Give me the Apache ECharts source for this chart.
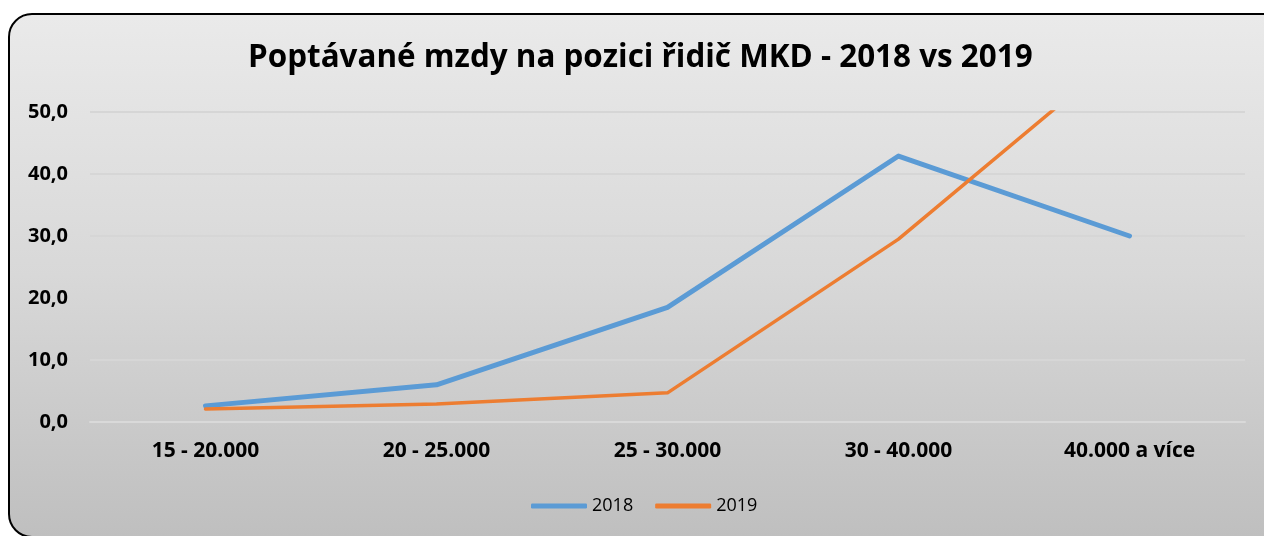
<!DOCTYPE html>
<html>
<head>
<meta charset="utf-8">
<script src="https://cdn.jsdelivr.net/npm/echarts@6/dist/echarts.min.js"></script>
<style>
html,body{margin:0;padding:0;background:#fff;width:1264px;height:536px;overflow:hidden;position:relative;}
#box{position:absolute;left:8px;top:13px;width:1276px;height:521px;border:2px solid #000;border-radius:24px;
background:linear-gradient(to bottom,#eaeaea 0%,#d8d8d8 50%,#bfbfbf 100%);}
#chart{position:absolute;left:0;top:0;width:1264px;height:536px;}
</style>
</head>
<body>
<div id="box"></div>
<div id="chart"></div>
<script>
const categories = ['15 - 20.000', '20 - 25.000', '25 - 30.000', '30 - 40.000', '40.000 a více'];
const values2018 = [2.6, 6.0, 18.5, 42.9, 30.0];
const values2019 = [2.1, 2.9, 4.7, 29.5, 60.6];
const seriesNames = ['2018', '2019'];
const yTicks = { min: 0, max: 50, interval: 10 };

const chart = echarts.init(document.getElementById('chart'), null, {renderer: 'canvas'});
const font = '"Open Sans", "Noto Sans", sans-serif';
chart.setOption({
  backgroundColor: 'transparent',
  title: {
    text: 'Poptávané mzdy na pozici řidič MKD - 2018 vs 2019',
    left: 243, top: 38,
    textStyle: { fontFamily: font, fontSize: 31.4, fontWeight: 'bold', color: '#000' }
  },
  grid: { left: 90, right: 19, top: 112, bottom: 114, containLabel: false },
  legend: {
    bottom: 16, left: 526,
    icon: 'roundRect',
    itemWidth: 56, itemHeight: 5, itemGap: 22,
    textStyle: { fontFamily: font, fontSize: 18, color: '#000' },
    data: seriesNames
  },
  xAxis: {
    type: 'category', data: categories, boundaryGap: true,
    axisLine: { show: true, lineStyle: { color: '#d9d9d9', width: 2 } },
    axisTick: { show: false },
    axisLabel: { fontFamily: font, fontSize: 21, fontWeight: 'bold', color: '#000', margin: 19 }
  },
  yAxis: {
    type: 'value', min: yTicks.min, max: yTicks.max, interval: yTicks.interval,
    axisLine: { show: false }, axisTick: { show: false },
    splitLine: { lineStyle: { color: '#d6d6d6', width: 2 } },
    axisLabel: { fontFamily: font, fontSize: 20, fontWeight: 'bold', color: '#000', margin: 22,
      formatter: v => v.toFixed(1).replace('.', ',') }
  },
  series: [
    { name: seriesNames[0], type: 'line', data: values2018, symbol: 'none', clip: true,
      lineStyle: { color: '#5b9bd5', width: 5, cap: 'round', join: 'round' }, itemStyle: { color: '#5b9bd5' } },
    { name: seriesNames[1], type: 'line', data: values2019, symbol: 'none', clip: true,
      lineStyle: { color: '#ed7d31', width: 3.5, cap: 'round', join: 'round' }, itemStyle: { color: '#ed7d31' } }
  ]
});
</script>
</body>
</html>
